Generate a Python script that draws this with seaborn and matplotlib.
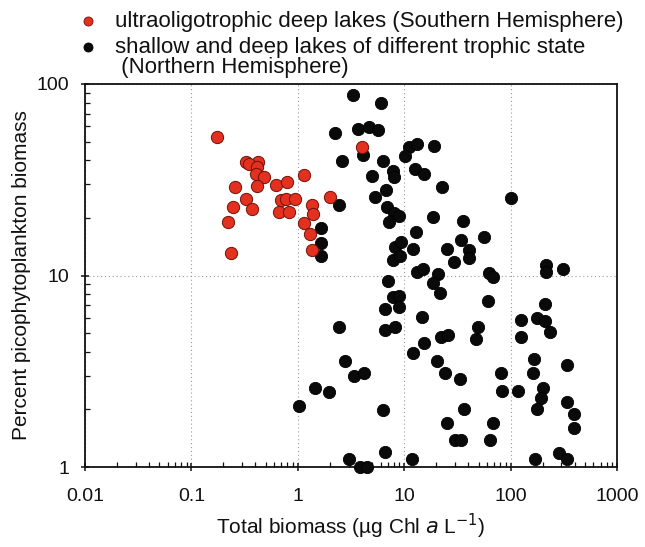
import matplotlib
matplotlib.use("Agg")
import matplotlib.pyplot as plt
from matplotlib.lines import Line2D
from matplotlib.ticker import LogLocator, FixedLocator, FixedFormatter, NullFormatter
import seaborn as sns
import pandas as pd

# Southern Hemisphere ultraoligotrophic deep lakes
south_chl = [0.175, 0.326, 0.425, 0.348, 0.411, 0.405, 0.478, 0.414, 0.257, 0.624,
             0.797, 1.14, 0.324, 0.690, 0.775, 0.94, 0.246, 0.369, 0.661, 0.821,
             1.36, 1.40, 2.02, 0.222, 1.14, 1.30, 1.37, 0.236, 4.01]
south_pico = [52.7, 39.2, 39.2, 38.2, 36.7, 33.9, 32.6, 29.3, 29.1, 29.6,
              30.9, 33.6, 25.1, 24.8, 25.1, 25.1, 22.8, 22.3, 21.5, 21.5,
              23.4, 20.9, 25.6, 19.0, 18.9, 16.5, 13.6, 13.1, 47.1]

# Northern Hemisphere lakes of different trophic state
north_chl = [3.28, 6.09, 2.25, 3.68, 4.70, 5.67, 2.59, 4.13, 4.98, 6.28,
             7.90, 8.02, 11.0, 13.3, 19.1, 10.2, 12.7, 15.3, 6.75, 22.7,
             5.35, 2.45, 6.94, 8.02, 8.87, 7.25, 100, 18.5, 35.5, 1.64,
             12.9, 1.64, 1.64, 8.25, 9.39, 7.80, 9.14, 12.0, 25.1, 34.4,
             40.4, 40.9, 56.2, 29.4, 13.3, 15.1, 20.8, 62.2, 68.8, 215,
             215, 313, 61.3, 211, 126, 176, 212, 234, 126, 49.4,
             47.3, 166, 337, 161, 81.8, 33.4, 83.0, 117, 203, 192,
             178, 341, 394, 394, 36.5, 68.8, 64.0, 29.8, 34.0, 283,
             337, 171, 18.8, 21.7, 7.04, 7.80, 8.87, 6.56, 8.87, 14.7,
             2.45, 6.64, 8.20, 22.0, 25.8, 15.3, 12.0, 2.76, 20.2, 3.37,
             4.19, 24.3, 1.44, 1.95, 1.02, 6.37, 25.4, 6.64, 3.05, 3.84,
             4.50, 11.8]
north_pico = [88, 79.3, 55.7, 58.0, 59.8, 57.5, 39.8, 42.7, 33.1, 39.8,
              35.3, 32.6, 47.1, 48.6, 47.5, 42.1, 35.9, 33.9, 27.9, 28.9,
              25.6, 23.4, 22.9, 21.3, 20.5, 19.1, 25.4, 20.1, 19.3, 17.6,
              16.9, 14.7, 12.6, 14.1, 15.0, 12.1, 12.6, 13.8, 13.8, 15.3,
              13.6, 12.3, 15.8, 11.8, 10.4, 10.8, 10.2, 10.3, 9.79, 11.3,
              10.4, 10.8, 7.39, 7.07, 5.86, 6.0, 5.81, 5.07, 4.79, 5.36,
              4.68, 3.68, 3.40, 3.09, 3.10, 2.88, 2.48, 2.48, 2.59, 2.29,
              2.0, 2.19, 1.89, 1.60, 2.0, 1.69, 1.39, 1.39, 1.39, 1.19,
              1.10, 1.10, 9.10, 8.07, 9.40, 7.75, 7.82, 6.66, 6.87, 6.10,
              5.36, 5.19, 5.36, 4.79, 4.87, 4.46, 3.95, 3.59, 3.59, 2.99,
              3.09, 3.09, 2.60, 2.47, 2.09, 1.98, 1.69, 1.20, 1.10, 1.0,
              1.0, 1.10]

x_ticks = [0.01, 0.1, 1, 10, 100, 1000]
x_tick_labels = ["0.01", "0.1", "1", "10", "100", "1000"]
y_ticks = [1, 10, 100]
y_tick_labels = ["1", "10", "100"]

south_label = "ultraoligotrophic deep lakes (Southern Hemisphere)"
north_label = "shallow and deep lakes of different trophic state"
north_label_2 = " (Northern Hemisphere)"

RED = "#e4301f"
BLACK = "#0a0a0a"
INK = "#111111"

sns.set_theme(style="white")
plt.rcParams["font.family"] = ["Liberation Sans", "DejaVu Sans"]
TICK_FS = 14
LABEL_FS = 15
KEY_FS = 16

fig = plt.figure(figsize=(6.45, 5.47), dpi=100)
ax = fig.add_axes([85 / 645, 1 - 467 / 547, (617 - 85) / 645, (467 - 84) / 547])

north = pd.DataFrame({"chl": north_chl, "pico": north_pico})
south = pd.DataFrame({"chl": south_chl, "pico": south_pico})

sns.scatterplot(data=north, x="chl", y="pico", ax=ax, color=BLACK, s=78,
                edgecolor="#000000", linewidth=0.6, clip_on=False, zorder=3)
sns.scatterplot(data=south, x="chl", y="pico", ax=ax, color=RED, s=78,
                edgecolor="#6e1208", linewidth=0.7, clip_on=False, zorder=4)

ax.set_xscale("log")
ax.set_yscale("log")
ax.set_xlim(0.01, 1000)
ax.set_ylim(1, 100)

ax.xaxis.set_major_locator(FixedLocator(x_ticks))
ax.xaxis.set_major_formatter(FixedFormatter(x_tick_labels))
ax.yaxis.set_major_locator(FixedLocator(y_ticks))
ax.yaxis.set_major_formatter(FixedFormatter(y_tick_labels))
ax.xaxis.set_minor_locator(LogLocator(base=10, subs=range(2, 10)))
ax.yaxis.set_minor_locator(LogLocator(base=10, subs=range(2, 10)))
ax.xaxis.set_minor_formatter(NullFormatter())
ax.yaxis.set_minor_formatter(NullFormatter())

ax.tick_params(which="major", direction="inout", length=6, width=1.1,
               color=INK, labelsize=TICK_FS, labelcolor=INK,
               bottom=True, left=True, top=False, right=False)
ax.tick_params(axis="x", which="major", pad=12)
ax.tick_params(axis="y", which="major", pad=8.5)
ax.tick_params(which="minor", direction="in", length=3.5, width=0.9,
               color=INK, bottom=True, left=True, top=False, right=False)

for side in ["left", "bottom", "top", "right"]:
    ax.spines[side].set_visible(True)
    ax.spines[side].set_color(INK)
    ax.spines[side].set_linewidth(1.3)

ax.grid(which="major", linestyle=(0, (1, 2.5)), color="#9a9a9a", linewidth=0.8)
ax.set_axisbelow(True)

ax.set_xlabel("Total biomass (\u00b5g Chl $\\mathit{a}$ L$^{-1}$)", fontsize=LABEL_FS,
              color=INK, labelpad=5)
ax.set_ylabel("Percent picophytoplankton biomass", fontsize=LABEL_FS,
              color=INK, labelpad=4)

# Key above the plot area
key_x = 88 / 645
text_x = 115 / 645
rows = [(1 - 21 / 547, RED, "#6e1208", south_label),
        (1 - 47 / 547, BLACK, "#000000", north_label)]
for y, fc, ec, txt in rows:
    fig.add_artist(Line2D([key_x], [y], marker="o", markersize=6.5,
                          markerfacecolor=fc, markeredgecolor=ec,
                          markeredgewidth=0.6, linestyle="none",
                          transform=fig.transFigure))
    fig.text(text_x, y, txt, fontsize=KEY_FS, color=INK, va="center", ha="left")
fig.text(text_x, 1 - 67 / 547, north_label_2, fontsize=KEY_FS, color=INK,
         va="center", ha="left")

fig.savefig("out.png", dpi=100, facecolor="white")
